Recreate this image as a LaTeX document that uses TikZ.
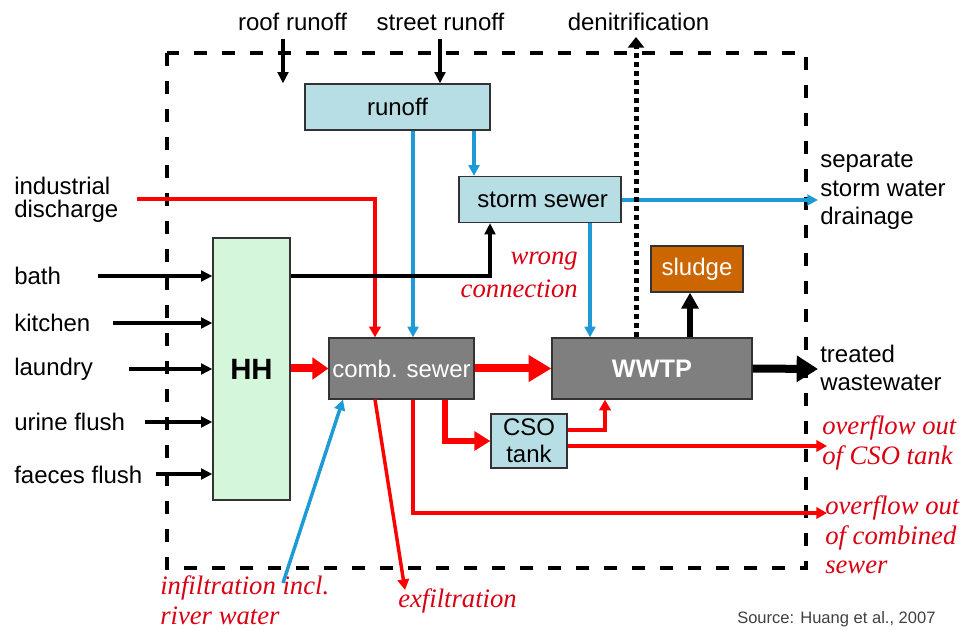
\documentclass[tikz,border=0pt]{standalone}
\usepackage{fontspec}
\setmainfont{Liberation Sans}
\newfontfamily\timesit{Liberation Serif}
\usetikzlibrary{arrows.meta}
\definecolor{lblue}{HTML}{B7DEE4}
\definecolor{lgreen}{HTML}{D4F7DB}
\definecolor{boxgray}{HTML}{7F7F7F}
\definecolor{sludgec}{HTML}{CC6600}
\definecolor{flowblue}{HTML}{1E9AD6}
\definecolor{flowred}{HTML}{FF0000}
\definecolor{txtred}{HTML}{D90012}
\definecolor{srcgray}{HTML}{404040}
\begin{document}
\begin{tikzpicture}[x=0.75pt,y=-0.75pt,
  box/.style={draw=black!80,line width=0.9pt,inner sep=0pt,font=\fontsize{18}{21}\selectfont},
  lbl/.style={inner sep=0pt,font=\fontsize{18}{21}\selectfont,align=left},
  itl/.style={inner sep=0pt,text=txtred,font=\timesit\itshape\fontsize{20}{22.5}\selectfont,align=left},
  sysbox/.style={draw=black,line width=3pt,dash pattern=on 10pt off 11pt},
  blk/.style={draw=black,line width=2.6pt,-{Triangle[length=8.5pt,width=8pt]}},
  blu/.style={draw=flowblue,line width=2.6pt,-{Triangle[length=8pt,width=8pt]}},
  redthin/.style={draw=flowred,line width=2.6pt,-{Triangle[length=8pt,width=8.5pt]}},
  redmid/.style={draw=flowred,line width=4.5pt,-{Triangle[length=12pt,width=14pt]}},
  redthick/.style={draw=flowred,line width=6pt,-{Triangle[length=17pt,width=19pt]}},
  blkthick/.style={draw=black,line width=6pt,-{Triangle[length=16pt,width=19pt]}},
  blkmid/.style={draw=black,line width=4.5pt,-{Triangle[length=12pt,width=12.5pt]}},
  dotline/.style={draw=black,line width=3.75pt,dash pattern=on 3.75pt off 3pt,-{Triangle[length=8pt,width=12pt]}}
]
\useasboundingbox (0,0) rectangle (963,630);

% system boundary
\draw[sysbox] (167,53) rectangle (806,568);

% boxes
\node[box,fill=lblue,minimum width=138.75pt,minimum height=34.5pt] (runoff) at (397.5,107) {runoff};
\node[box,fill=lblue,minimum width=121.5pt,minimum height=34.5pt] (storm) at (540,199.5) {\hspace{4pt}storm sewer};
\node[box,fill=lgreen,minimum width=57.75pt,minimum height=196.5pt,font=\fontsize{22}{24}\selectfont\bfseries] (HH) at (251.5,369) {HH};
\node[box,fill=boxgray,text=white,minimum width=108.75pt,minimum height=45.75pt] (comb) at (401.5,368.5) {comb. sewer};
\node[box,fill=boxgray,text=white,minimum width=150pt,minimum height=45.75pt,font=\fontsize{19}{21}\selectfont\bfseries] (WWTP) at (652,368.5) {WWTP};
\node[box,fill=sludgec,text=white,minimum width=69pt,minimum height=34.5pt] (sludge) at (697,269) {sludge};
\node[box,fill=lblue,minimum width=57pt,minimum height=40.5pt,align=center,font=\fontsize{18}{20}\selectfont] (CSO) at (529,441) {CSO\\tank};

% labels
\node[lbl,anchor=base] (roofL) at (292.5,31) {roof runoff};
\node[lbl,anchor=base] (streetL) at (440.5,31) {street runoff};
\node[lbl,anchor=base] (denitL) at (638.5,31) {denitrification};
\node[lbl,anchor=west,font=\fontsize{18}{17.5}\selectfont] (indL) at (14,200) {industrial\\discharge};
\node[lbl,anchor=west] (bathL) at (14,276) {bath};
\node[lbl,anchor=west] (kitL) at (14,323) {kitchen};
\node[lbl,anchor=west] (lauL) at (14,369) {laundry};
\node[lbl,anchor=west] (urL) at (14,422) {urine flush};
\node[lbl,anchor=west] (faeL) at (14,475) {faeces flush};
\node[lbl,anchor=west,font=\fontsize{18}{21.5}\selectfont] (sepL) at (820,191) {separate\\storm water\\drainage};
\node[lbl,anchor=west] (treatL) at (820,368) {treated\\wastewater};
\node[itl,anchor=west] (ovcL) at (822,443) {overflow out\\of CSO tank};
\node[itl,anchor=west,font=\timesit\itshape\fontsize{20}{22}\selectfont] (ovsL) at (825,535) {overflow out\\of combined\\sewer};
\node[itl,anchor=west] (infL) at (160,600) {infiltration incl.\\river water};
\node[itl,anchor=east,align=right,font=\timesit\itshape\fontsize{20}{24.5}\selectfont] (wrongL) at (578,275) {wrong\\connection};
\node[itl,anchor=base west] (exfL) at (398,607) {exfiltration};
\node[inner sep=0pt,anchor=west,text=srcgray,font=\fontsize{12.4}{14}\selectfont] (srcL) at (737,619) {Source: Huang et al., 2007};

% helper coordinates
\coordinate (roofS) at (283,39);
\coordinate (streetS) at (440,39);
\coordinate (denitT) at (636,37);
\coordinate (indS) at (137,199);
\coordinate (bathS) at (98,276);
\coordinate (kitS) at (113,323);
\coordinate (lauS) at (129,369);
\coordinate (urS) at (145,422);
\coordinate (faeS) at (156,474);
\coordinate (sepE) at (818,200);
\coordinate (treatE) at (818,369);
\coordinate (ovcE) at (827,446);
\coordinate (ovsE) at (827,513);
\coordinate (exfE) at (405,590);
\coordinate (infS) at (283,583);
\coordinate (x375) at (375,0);
\coordinate (x413) at (413,0);
\coordinate (x474) at (474,0);
\coordinate (x490) at (490,0);
\coordinate (x590) at (590,0);
\coordinate (x690) at (690,0);
\coordinate (x445) at (445,0);
\coordinate (x343) at (343,0);
\coordinate (c430) at (605,430);

% inputs
\draw[blk] (roofS) -- (roofS |- runoff.north);
\draw[blk] (streetS) -- (streetS |- runoff.north);
\draw[blk] (bathS) -- (HH.west |- bathS);
\draw[blk] (kitS) -- (HH.west |- kitS);
\draw[blk] (lauS) -- (HH.west |- lauS);
\draw[blk] (urS) -- (HH.west |- urS);
\draw[blk] (faeS) -- (HH.west |- faeS);
\draw[redthin] (indS) -| (comb.north -| x375);

% runoff / storm
\draw[blu] (runoff.south -| x413) -- (comb.north -| x413);
\draw[blu] (runoff.south -| x474) -- (storm.north -| x474);
\draw[blu] (storm.east |- sepE) -- (sepE);
\draw[blu] (storm.south -| x590) -- (WWTP.north -| x590);
\draw[blk] (HH.east |- bathS) -| (storm.south -| x490);

% main flow
\draw[redthick,-{Triangle[length=12pt,width=16pt]}] (HH.east |- comb.west) -- (comb.west);
\draw[redthick] (comb.east) -- (WWTP.west);
\draw[blkthick] (WWTP.east) -- (treatE);
\draw[blkmid] (WWTP.north -| x690) -- (sludge.south -| x690);
\draw[dotline] (WWTP.north -| denitT) -- (denitT);

% CSO
\draw[redmid] (comb.south -| x445) |- (CSO.west);
\draw[redthin] (CSO.east |- c430) -| (WWTP.south -| c430);
\draw[redthin] (CSO.east |- ovcE) -- (ovcE);
\draw[redthin] (comb.south -| x413) |- (ovsE);

% exfiltration / infiltration
\draw[redthin] (comb.south -| x375) -- (exfE);
\draw[blu] (infS) -- (comb.south -| x343);
\end{tikzpicture}
\end{document}
